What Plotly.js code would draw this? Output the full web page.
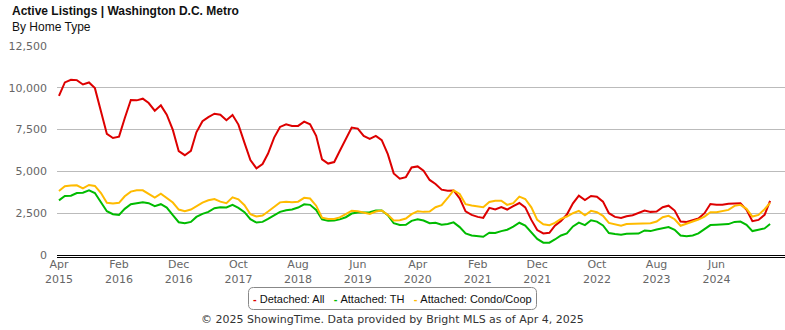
<!DOCTYPE html>
<html>
<head>
<meta charset="utf-8">
<script src="https://cdn.plot.ly/plotly-3.0.1.min.js"></script>
<style>html,body{margin:0;padding:0;background:#fff;}#chart{width:785px;height:330px;}</style>
</head>
<body>
<div id="chart"></div>
<script>
// ---- Data (monthly, Apr 2015 – Mar 2025) ----
const startYear = 2015, startMonth = 4, monthCount = 120;
const seriesNames = ["Detached: All", "Attached: TH", "Attached: Condo/Coop"];
const seriesColors = ["#dd0000", "#00bb00", "#ffbb00"];

const detachedAll = [
  9520,10320,10480,10460,10200,10320,9980,8630,7240,7000,7080,8180,
  9270,9250,9350,9090,8630,8950,8390,7480,6210,5970,6230,7340,
  8000,8250,8450,8390,8060,8370,7800,6710,5680,5180,5440,6070,
  7020,7660,7820,7720,7720,7980,7820,7130,5720,5470,5560,6220,
  6900,7620,7560,7120,6950,7120,6870,6030,4880,4560,4660,5240,
  5300,5040,4490,4250,3910,3840,3860,3390,2610,2400,2280,2220,
  2820,2720,2870,2720,2920,3110,2850,2100,1490,1290,1330,1750,
  2040,2420,3090,3550,3290,3530,3490,3190,2500,2280,2220,2320,
  2380,2530,2660,2580,2600,2860,2950,2660,2000,1980,2080,2180,
  2500,3050,3000,3010,3070,3090,3090,2700,2020,2100,2400,3240
];
const attachedTH = [
  3270,3530,3550,3710,3730,3870,3710,3180,2620,2440,2400,2760,
  3040,3100,3160,3100,2920,3040,2840,2380,1960,1900,1980,2280,
  2460,2580,2800,2860,2840,3000,2820,2560,2140,1940,1980,2160,
  2360,2580,2680,2720,2840,3030,3000,2700,2130,2050,2070,2130,
  2260,2480,2540,2540,2560,2660,2660,2380,1900,1790,1810,2040,
  2140,2060,1900,1930,1810,1850,1950,1670,1290,1170,1130,1090,
  1330,1320,1430,1510,1700,1930,1760,1340,960,740,740,930,
  1170,1290,1710,1940,1790,2080,2000,1770,1310,1250,1210,1270,
  1270,1280,1470,1430,1530,1610,1670,1510,1170,1130,1170,1290,
  1530,1790,1810,1810,1850,1980,2000,1810,1430,1510,1590,1850
];
const attachedCondo = [
  3830,4110,4150,4170,3990,4190,4130,3710,3120,3080,3120,3510,
  3790,3870,3870,3670,3430,3670,3410,3140,2720,2620,2720,2920,
  3130,3270,3350,3190,3100,3450,3330,2980,2440,2300,2360,2600,
  2900,3150,3190,3160,3190,3420,3380,2950,2230,2150,2150,2250,
  2450,2640,2620,2520,2460,2600,2660,2400,2060,2080,2180,2440,
  2620,2580,2600,2860,2980,3410,3870,3650,3040,2960,2920,2860,
  3170,3240,3250,3000,3100,3490,3350,2850,2100,1840,1780,1920,
  2160,2300,2500,2640,2380,2640,2560,2340,1920,1850,1750,1850,
  1860,1860,1880,1900,2000,2260,2340,2140,1750,1880,2020,2120,
  2300,2560,2560,2640,2700,2940,3000,2760,2300,2400,2740,3120
];

const tickDates = ["2015-04-01","2016-02-01","2016-12-01","2017-10-01","2018-08-01","2019-06-01",
                   "2020-04-01","2021-02-01","2021-12-01","2022-10-01","2023-08-01","2024-06-01"];
const tickLabels = ["Apr<br>2015","Feb<br>2016","Dec<br>2016","Oct<br>2017","Aug<br>2018","Jun<br>2019",
                    "Apr<br>2020","Feb<br>2021","Dec<br>2021","Oct<br>2022","Aug<br>2023","Jun<br>2024"];
const yTickVals = [0, 2500, 5000, 7500, 10000, 12500];
const yTickText = ["0", "2,500", "5,000", "7,500", "10,000", "12,500"];

// ---- Build x categories (month starts) ----
const months = [];
for (let i = 0; i < monthCount; i++) {
  const total = (startMonth - 1) + i;
  const y = startYear + Math.floor(total / 12);
  const m = (total % 12) + 1;
  months.push(y + "-" + String(m).padStart(2, "0") + "-01");
}

const seriesValues = [detachedAll, attachedTH, attachedCondo];
const traces = seriesValues.map((vals, i) => ({
  type: "scatter", mode: "lines", x: months, y: vals, name: seriesNames[i],
  line: { color: seriesColors[i], width: 2 }, showlegend: false, hoverinfo: "x+y"
}));

// ---- Legend as rich text annotation ----
const legendText = seriesNames.map((n, i) =>
  '<span style="color:' + seriesColors[i] + '"><b>-</b></span>&nbsp;' + n).join("&nbsp;&nbsp;&nbsp;");

const W = 785, H = 330;
const mL = 57, mR = 0, mT = 46, mB = 73;
const plotW = W - mL - mR, plotH = H - mT - mB;
function px2paperX(px) { return (px - mL) / plotW; }
function px2paperY(py) { return (H - mB - py) / plotH; }

// rounded rectangle path for legend box (paper coords)
function roundRect(x0, y0, x1, y1, r) {
  const X = px2paperX, Y = px2paperY;
  return "M" + X(x0 + r) + "," + Y(y0) +
    " L" + X(x1 - r) + "," + Y(y0) +
    " Q" + X(x1) + "," + Y(y0) + " " + X(x1) + "," + Y(y0 + r) +
    " L" + X(x1) + "," + Y(y1 - r) +
    " Q" + X(x1) + "," + Y(y1) + " " + X(x1 - r) + "," + Y(y1) +
    " L" + X(x0 + r) + "," + Y(y1) +
    " Q" + X(x0) + "," + Y(y1) + " " + X(x0) + "," + Y(y1 - r) +
    " L" + X(x0) + "," + Y(y0 + r) +
    " Q" + X(x0) + "," + Y(y0) + " " + X(x0 + r) + "," + Y(y0) + " Z";
}

const layout = {
  width: W, height: H,
  margin: { l: mL, r: mR, t: mT, b: mB, pad: 0 },
  paper_bgcolor: "#ffffff", plot_bgcolor: "#ffffff",
  font: { family: "DejaVu Sans, sans-serif", size: 11, color: "#666666" },
  xaxis: {
    type: "date", range: ["2015-03-22", "2025-05-16"],
    tickmode: "array", tickvals: tickDates, ticktext: tickLabels,
    showgrid: false, zeroline: false,
    showline: true, linecolor: "#000000", linewidth: 1,
    ticks: "", ticklabelstandoff: -3,
    tickfont: { family: "DejaVu Sans, sans-serif", size: 11, color: "#666666" },
    fixedrange: true
  },
  yaxis: {
    range: [-119, 12500], tickmode: "array", tickvals: yTickVals, ticktext: yTickText,
    showgrid: true, gridcolor: "#bbbbbb", gridwidth: 1,
    zeroline: true, zerolinecolor: "#000000", zerolinewidth: 1,
    showline: false, ticks: "", ticklabelstandoff: 9,
    tickfont: { family: "DejaVu Sans, sans-serif", size: 11, color: "#666666" },
    fixedrange: true
  },
  shapes: [{
    type: "path", xref: "paper", yref: "paper",
    path: roundRect(248.5, 287.5, 536.5, 309.5, 5),
    line: { color: "#888888", width: 1 }, fillcolor: "rgba(0,0,0,0)"
  }],
  annotations: [
    {
      xref: "paper", yref: "paper", x: px2paperX(10), y: px2paperY(2),
      xanchor: "left", yanchor: "top", align: "left", showarrow: false,
      text: "<b>Active Listings | Washington D.C. Metro</b><br>By Home Type",
      font: { family: "Liberation Sans, Arial, sans-serif", size: 12, color: "#111111" }
    },
    {
      xref: "paper", yref: "paper", x: px2paperX(392.5), y: px2paperY(298.5),
      xanchor: "center", yanchor: "middle", showarrow: false,
      text: legendText,
      font: { family: "Liberation Sans, Arial, sans-serif", size: 11, color: "#111111" }
    },
    {
      xref: "paper", yref: "paper", x: px2paperX(392.5), y: px2paperY(320),
      xanchor: "center", yanchor: "middle", showarrow: false,
      text: "© 2025 ShowingTime. Data provided by Bright MLS as of Apr 4, 2025",
      font: { family: "DejaVu Sans, sans-serif", size: 11, color: "#333333" }
    }
  ],
  showlegend: false
};

Plotly.newPlot("chart", traces, layout, { displayModeBar: false, staticPlot: true });
</script>
</body>
</html>
